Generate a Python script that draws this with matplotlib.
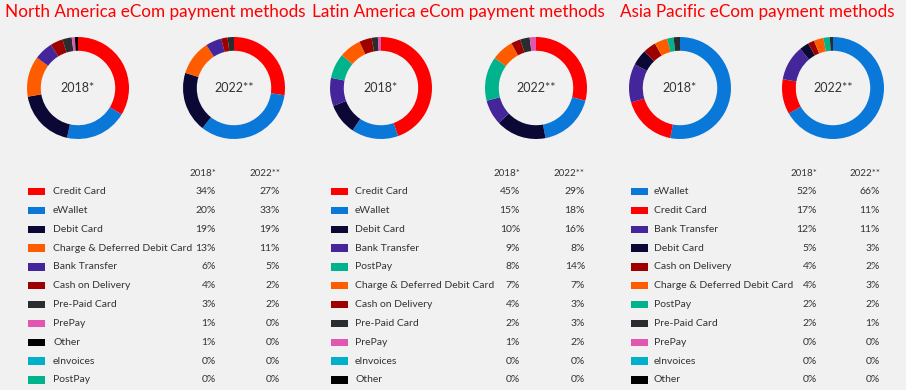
import matplotlib
matplotlib.use("Agg")
import matplotlib.pyplot as plt

plt.rcParams['font.family'] = ['Lato', 'DejaVu Sans']

W, H = 906, 390
DPI = 100

colors = {
    "Credit Card": "#fe0000",
    "eWallet": "#0a78d8",
    "Debit Card": "#0b0836",
    "Charge & Deferred Debit Card": "#ff5c00",
    "Bank Transfer": "#45259a",
    "Cash on Delivery": "#9e0000",
    "Pre-Paid Card": "#2a2d2f",
    "PrePay": "#e156b0",
    "Other": "#000000",
    "eInvoices": "#00b0c8",
    "PostPay": "#00b38c",
}

years = ["2018*", "2022**"]

titles = ["North America eCom payment methods",
          "Latin America eCom payment methods",
          "Asia Pacific eCom payment methods"]

na_methods = ["Credit Card", "eWallet", "Debit Card", "Charge & Deferred Debit Card",
              "Bank Transfer", "Cash on Delivery", "Pre-Paid Card", "PrePay", "Other",
              "eInvoices", "PostPay"]
na_2018 = [34, 20, 19, 13, 6, 4, 3, 1, 1, 0, 0]
na_2022 = [27, 33, 19, 11, 5, 2, 2, 0, 0, 0, 0]

la_methods = ["Credit Card", "eWallet", "Debit Card", "Bank Transfer", "PostPay",
              "Charge & Deferred Debit Card", "Cash on Delivery", "Pre-Paid Card",
              "PrePay", "eInvoices", "Other"]
la_2018 = [45, 15, 10, 9, 8, 7, 4, 2, 1, 0, 0]
la_2022 = [29, 18, 16, 8, 14, 7, 3, 3, 2, 0, 0]

ap_methods = ["eWallet", "Credit Card", "Bank Transfer", "Debit Card", "Cash on Delivery",
              "Charge & Deferred Debit Card", "PostPay", "Pre-Paid Card", "PrePay",
              "eInvoices", "Other"]
ap_2018 = [52, 17, 12, 5, 4, 4, 2, 2, 0, 0, 0]
ap_2022 = [66, 11, 11, 3, 2, 3, 2, 1, 0, 0, 0]

panels = [
    (na_methods, na_2018, na_2022),
    (la_methods, la_2018, la_2022),
    (ap_methods, ap_2018, ap_2022),
]

# layout (pixels, origin top-left)
title_x = [5, 312, 620]
donut_cx = [(78, 234), (381, 536), (680, 833)]
donut_cy = 88
donut_r = 51
sq_x = [28, 331, 631]
sq_w = 17
text_x = [53, 355, 654]
val_x = [(216, 280), (520, 585), (817, 880)]
header_y = 173
row_y0 = 191.5
row_dy = 18.85

fig = plt.figure(figsize=(W / DPI, H / DPI), dpi=DPI)
fig.patch.set_facecolor("#f1f1f1")

bg = fig.add_axes([0, 0, 1, 1])
bg.set_xlim(0, W)
bg.set_ylim(H, 0)
bg.axis("off")

text_col = "#333333"

for p, (methods, v18, v22) in enumerate(panels):
    bg.text(title_x[p], 12, titles[p], color="#fe0000", fontsize=12.3,
            ha="left", va="center")
    for k, vals in enumerate((v18, v22)):
        cx = donut_cx[p][k]
        ax = fig.add_axes([(cx - donut_r) / W, 1 - (donut_cy + donut_r) / H,
                           2 * donut_r / W, 2 * donut_r / H])
        ax.pie(vals, colors=[colors[m] for m in methods], startangle=90,
               counterclock=False, radius=1,
               wedgeprops=dict(width=0.27, linewidth=0))
        ax.set_aspect("equal")
        ax.set_xlim(-1, 1)
        ax.set_ylim(-1, 1)
        ax.axis("off")
        ax.text(0, 0, years[k], ha="center", va="center", fontsize=9,
                color=text_col)
        bg.text(val_x[p][k], header_y, years[k], ha="right", va="center",
                fontsize=7, color=text_col)
    for i, m in enumerate(methods):
        y = row_y0 + i * row_dy
        bg.add_patch(plt.Rectangle((sq_x[p], y - 3.7), sq_w, 7.4,
                                   color=colors[m], lw=0))
        bg.text(text_x[p], y, m, ha="left", va="center", fontsize=7.5,
                color=text_col)
        bg.text(val_x[p][0], y, f"{v18[i]}%", ha="right", va="center",
                fontsize=7.5, color=text_col)
        bg.text(val_x[p][1], y, f"{v22[i]}%", ha="right", va="center",
                fontsize=7.5, color=text_col)

fig.savefig("out.png", dpi=DPI, facecolor=fig.get_facecolor())
